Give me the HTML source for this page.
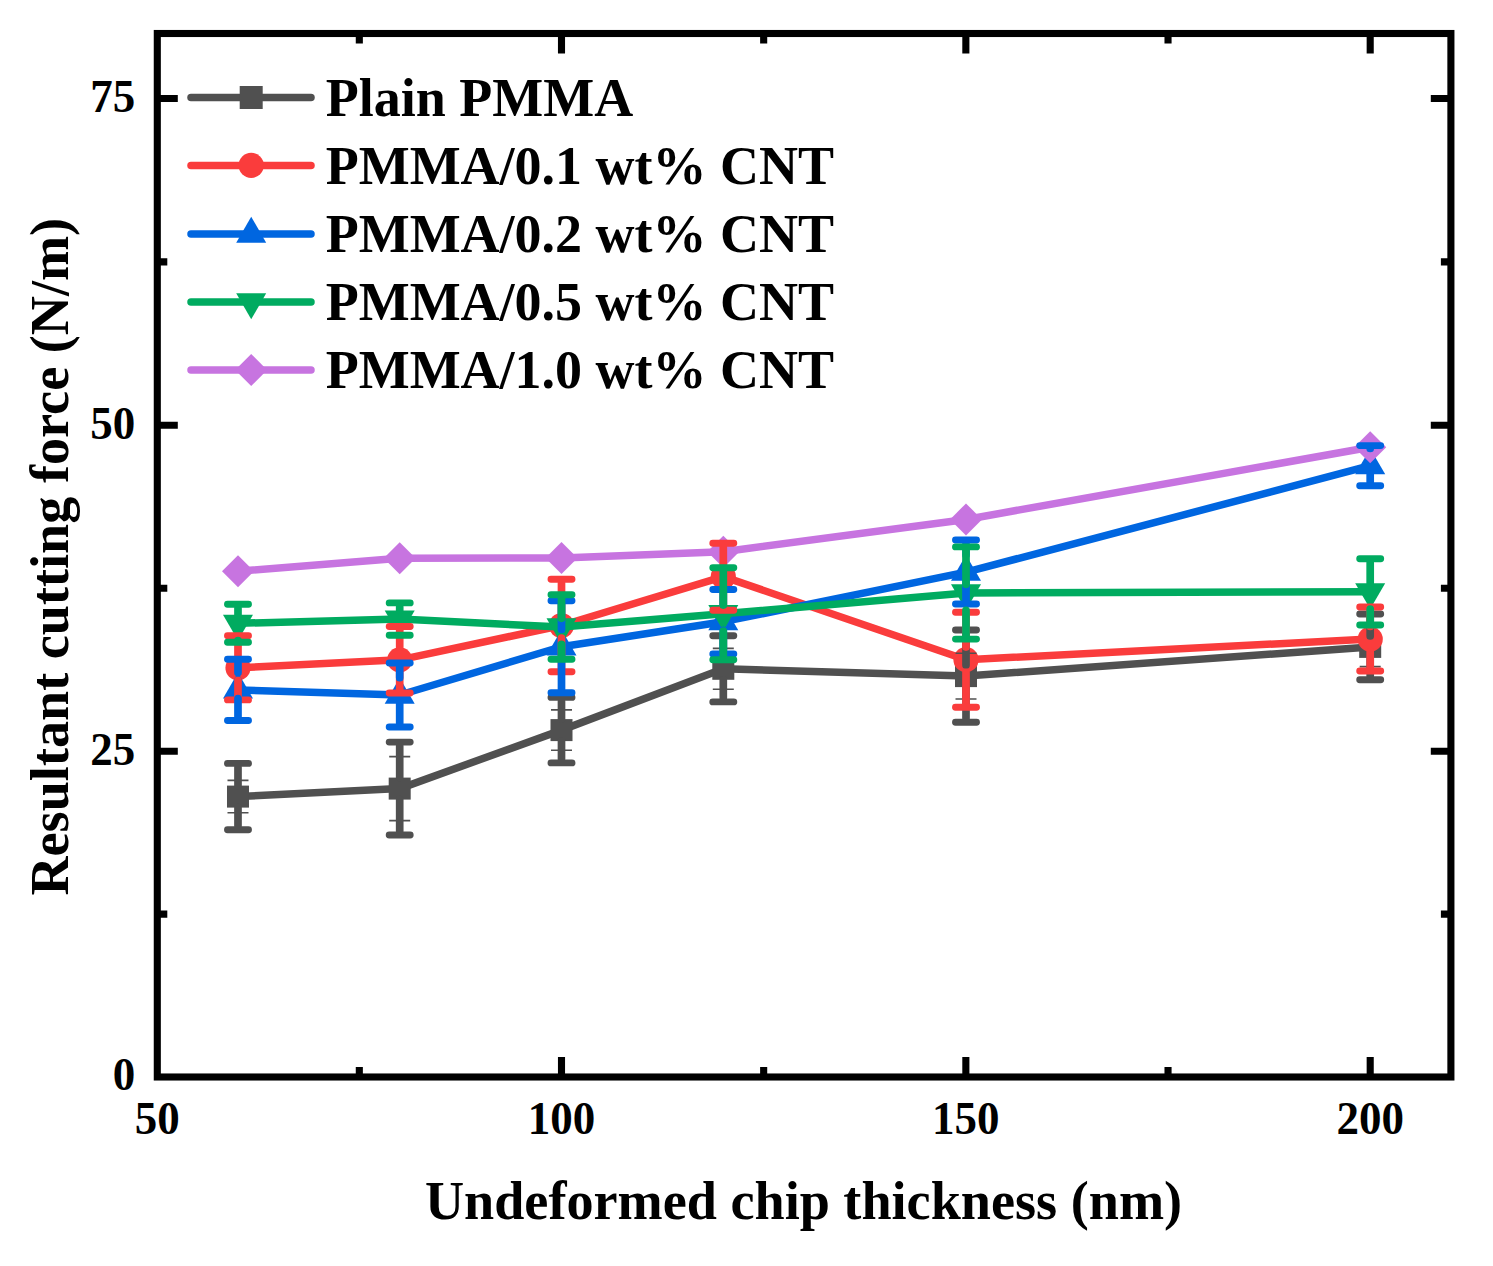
<!DOCTYPE html>
<html><head><meta charset="utf-8"><title>Resultant cutting force chart</title>
<style>html,body{margin:0;padding:0;background:#fff;}svg{display:block;}</style></head>
<body>
<svg width="1493" height="1266" viewBox="0 0 1493 1266">
<rect width="1493" height="1266" fill="#fff"/>
<polyline points="237.99,796.60 399.70,788.60 561.50,730.10 723.30,668.80 966.00,676.10 1370.20,646.90" fill="none" stroke="#505050" stroke-width="7.5" stroke-linejoin="round" stroke-linecap="round"/>
<rect x="226.99" y="785.60" width="22" height="22" fill="#505050"/>
<rect x="388.70" y="777.60" width="22" height="22" fill="#505050"/>
<rect x="550.50" y="719.10" width="22" height="22" fill="#505050"/>
<rect x="712.30" y="657.80" width="22" height="22" fill="#505050"/>
<rect x="955.00" y="665.10" width="22" height="22" fill="#505050"/>
<rect x="1359.20" y="635.90" width="22" height="22" fill="#505050"/>
<polyline points="237.99,667.80 399.70,659.80 561.50,625.50 723.30,576.60 966.00,659.70 1370.20,639.10" fill="none" stroke="#FA3C3C" stroke-width="7.5" stroke-linejoin="round" stroke-linecap="round"/>
<circle cx="237.99" cy="667.80" r="12.6" fill="#FA3C3C"/>
<circle cx="399.70" cy="659.80" r="12.6" fill="#FA3C3C"/>
<circle cx="561.50" cy="625.50" r="12.6" fill="#FA3C3C"/>
<circle cx="723.30" cy="576.60" r="12.6" fill="#FA3C3C"/>
<circle cx="966.00" cy="659.70" r="12.6" fill="#FA3C3C"/>
<circle cx="1370.20" cy="639.10" r="12.6" fill="#FA3C3C"/>
<polyline points="237.99,689.90 399.70,695.00 561.50,646.75 723.30,621.70 966.00,572.20 1370.20,465.70" fill="none" stroke="#0066E0" stroke-width="7.5" stroke-linejoin="round" stroke-linecap="round"/>
<path d="M237.99 672.58L252.99 698.56L222.99 698.56Z" fill="#0066E0"/>
<path d="M399.70 677.68L414.70 703.66L384.70 703.66Z" fill="#0066E0"/>
<path d="M561.50 629.43L576.50 655.41L546.50 655.41Z" fill="#0066E0"/>
<path d="M723.30 604.38L738.30 630.36L708.30 630.36Z" fill="#0066E0"/>
<path d="M966.00 554.88L981.00 580.86L951.00 580.86Z" fill="#0066E0"/>
<path d="M1370.20 448.38L1385.20 474.36L1355.20 474.36Z" fill="#0066E0"/>
<polyline points="237.99,623.30 399.70,619.10 561.50,627.00 723.30,613.70 966.00,593.00 1370.20,591.80" fill="none" stroke="#00AB60" stroke-width="7.5" stroke-linejoin="round" stroke-linecap="round"/>
<path d="M237.99 640.62L252.99 614.64L222.99 614.64Z" fill="#00AB60"/>
<path d="M399.70 636.42L414.70 610.44L384.70 610.44Z" fill="#00AB60"/>
<path d="M561.50 644.32L576.50 618.34L546.50 618.34Z" fill="#00AB60"/>
<path d="M723.30 631.02L738.30 605.04L708.30 605.04Z" fill="#00AB60"/>
<path d="M966.00 610.32L981.00 584.34L951.00 584.34Z" fill="#00AB60"/>
<path d="M1370.20 609.12L1385.20 583.14L1355.20 583.14Z" fill="#00AB60"/>
<polyline points="237.99,571.30 399.70,558.30 561.50,558.00 723.30,551.70 966.00,519.45 1370.20,447.20" fill="none" stroke="#C774E0" stroke-width="7.5" stroke-linejoin="round" stroke-linecap="round"/>
<path d="M237.99 555.30L253.99 571.30L237.99 587.30L221.99 571.30Z" fill="#C774E0"/>
<path d="M399.70 542.30L415.70 558.30L399.70 574.30L383.70 558.30Z" fill="#C774E0"/>
<path d="M561.50 542.00L577.50 558.00L561.50 574.00L545.50 558.00Z" fill="#C774E0"/>
<path d="M723.30 535.70L739.30 551.70L723.30 567.70L707.30 551.70Z" fill="#C774E0"/>
<path d="M966.00 503.45L982.00 519.45L966.00 535.45L950.00 519.45Z" fill="#C774E0"/>
<path d="M1370.20 431.20L1386.20 447.20L1370.20 463.20L1354.20 447.20Z" fill="#C774E0"/>
<path d="M227.49 780.40H248.49M227.49 812.80H248.49M389.20 756.60H410.20M389.20 820.60H410.20M551.00 709.90H572.00M551.00 750.30H572.00M712.80 648.40H733.80M712.80 689.20H733.80M955.50 653.20H976.50M955.50 699.00H976.50M1359.70 627.20H1380.70M1359.70 666.60H1380.70" stroke="#505050" stroke-width="1.6" fill="none"/>
<path d="M237.99 767.25V785.60M237.99 807.60V825.85M399.70 745.95V777.60M399.70 799.60V831.15M561.50 701.25V719.10M561.50 741.10V759.05M723.30 639.55V657.80M723.30 679.80V698.05M966.00 633.85V665.10M966.00 687.10V718.35M1370.20 617.85V635.90M1370.20 657.90V675.95" stroke="#505050" stroke-width="7.7" stroke-linecap="round" fill="none"/>
<path d="M227.49 763.40H248.49M227.49 829.70H248.49M389.20 742.10H410.20M389.20 835.00H410.20M551.00 697.40H572.00M551.00 762.90H572.00M712.80 635.70H733.80M712.80 701.90H733.80M955.50 630.00H976.50M955.50 722.20H976.50M1359.70 614.00H1380.70M1359.70 679.80H1380.70" stroke="#505050" stroke-width="6.9" stroke-linecap="round" fill="none"/>
<path d="M237.99 639.55V655.20M237.99 680.40V696.05M399.70 630.35V647.20M399.70 672.40V689.15M561.50 583.15V612.90M561.50 638.10V667.85M723.30 547.15V564.00M723.30 589.20V606.45M966.00 616.05V647.10M966.00 672.30V703.45M1370.20 610.85V626.50M1370.20 651.70V667.15" stroke="#FA3C3C" stroke-width="7.7" stroke-linecap="round" fill="none"/>
<path d="M227.49 635.70H248.49M227.49 699.90H248.49M389.20 626.50H410.20M389.20 693.00H410.20M551.00 579.30H572.00M551.00 671.70H572.00M712.80 543.30H733.80M712.80 610.30H733.80M955.50 612.20H976.50M955.50 707.30H976.50M1359.70 607.00H1380.70M1359.70 671.00H1380.70" stroke="#FA3C3C" stroke-width="6.9" stroke-linecap="round" fill="none"/>
<path d="M237.99 663.15V672.60M237.99 698.56V716.65M399.70 666.85V677.70M399.70 703.66V723.15M561.50 604.55V629.45M561.50 655.41V688.95M723.30 593.35V604.40M723.30 630.36V650.05M966.00 543.90V554.90M966.00 580.86V600.15M1370.20 448.40V448.40M1370.20 474.36V481.95" stroke="#0066E0" stroke-width="7.7" stroke-linecap="round" fill="none"/>
<path d="M227.49 659.30H248.49M227.49 720.50H248.49M389.20 663.00H410.20M389.20 727.00H410.20M551.00 600.70H572.00M551.00 692.80H572.00M712.80 589.50H733.80M712.80 653.90H733.80M955.50 540.05H976.50M955.50 604.00H976.50M1359.70 445.60H1380.70M1359.70 485.80H1380.70" stroke="#0066E0" stroke-width="6.9" stroke-linecap="round" fill="none"/>
<path d="M237.99 608.15V614.64M237.99 640.60V640.60M399.70 606.75V610.44M561.50 598.55V618.34M561.50 644.30V655.45M723.30 571.55V605.04M723.30 631.00V655.85M966.00 550.75V584.34M966.00 610.30V635.25M1370.20 562.55V583.14M1370.20 609.10V621.15" stroke="#00AB60" stroke-width="7.7" stroke-linecap="round" fill="none"/>
<path d="M227.49 604.30H248.49M227.49 642.30H248.49M389.20 602.90H410.20M389.20 635.30H410.20M551.00 594.70H572.00M551.00 659.30H572.00M712.80 567.70H733.80M712.80 659.70H733.80M955.50 546.90H976.50M955.50 639.10H976.50M1359.70 558.70H1380.70M1359.70 625.00H1380.70" stroke="#00AB60" stroke-width="6.9" stroke-linecap="round" fill="none"/>
<rect x="157.30" y="33.50" width="1293.60" height="1043.50" fill="none" stroke="#000" stroke-width="7.1" stroke-linejoin="miter"/>
<path d="M561.50 1077.00V1056.90M561.50 33.50V53.60M965.85 1077.00V1056.90M965.85 33.50V53.60M1370.20 1077.00V1056.90M1370.20 33.50V53.60M359.32 1077.00V1067.00M359.32 33.50V43.50M763.67 1077.00V1067.00M763.67 33.50V43.50M1168.03 1077.00V1067.00M1168.03 33.50V43.50M157.30 751.20H177.80M1450.90 751.20H1430.80M157.30 425.30H177.80M1450.90 425.30H1430.80M157.30 98.50H177.80M1450.90 98.50H1430.80M157.30 914.10H167.30M1450.90 914.10H1440.90M157.30 588.25H167.30M1450.90 588.25H1440.90M157.30 261.90H167.30M1450.90 261.90H1440.90" stroke="#000" stroke-width="7.1" fill="none"/>
<text transform="translate(157.15,1134.3) scale(1,1.035)" text-anchor="middle" font-family="Liberation Serif, serif" font-weight="bold" font-size="45">50</text>
<text transform="translate(561.50,1134.3) scale(1,1.035)" text-anchor="middle" font-family="Liberation Serif, serif" font-weight="bold" font-size="45">100</text>
<text transform="translate(965.85,1134.3) scale(1,1.035)" text-anchor="middle" font-family="Liberation Serif, serif" font-weight="bold" font-size="45">150</text>
<text transform="translate(1370.20,1134.3) scale(1,1.035)" text-anchor="middle" font-family="Liberation Serif, serif" font-weight="bold" font-size="45">200</text>
<text transform="translate(135.3,1090.30) scale(1,1.035)" text-anchor="end" font-family="Liberation Serif, serif" font-weight="bold" font-size="45">0</text>
<text transform="translate(135.3,764.50) scale(1,1.035)" text-anchor="end" font-family="Liberation Serif, serif" font-weight="bold" font-size="45">25</text>
<text transform="translate(135.3,438.60) scale(1,1.035)" text-anchor="end" font-family="Liberation Serif, serif" font-weight="bold" font-size="45">50</text>
<text transform="translate(135.3,111.80) scale(1,1.035)" text-anchor="end" font-family="Liberation Serif, serif" font-weight="bold" font-size="45">75</text>
<text x="803.5" y="1218.6" text-anchor="middle" font-family="Liberation Serif, serif" font-weight="bold" font-size="54.2">Undeformed chip thickness (nm)</text>
<text transform="translate(67.9,556.7) rotate(-90)" x="0" y="0" text-anchor="middle" font-family="Liberation Serif, serif" font-weight="bold" font-size="54.2">Resultant cutting force (N/m)</text>
<path d="M191 97.50H311" stroke="#505050" stroke-width="7.5" stroke-linecap="round"/>
<rect x="239.70" y="86.00" width="23" height="23" fill="#505050"/>
<text x="325.7" y="116.30" font-family="Liberation Serif, serif" font-weight="bold" font-size="54">Plain PMMA</text>
<path d="M191 165.40H311" stroke="#FA3C3C" stroke-width="7.5" stroke-linecap="round"/>
<circle cx="251.20" cy="165.40" r="12.6" fill="#FA3C3C"/>
<text x="325.7" y="184.30" font-family="Liberation Serif, serif" font-weight="bold" font-size="54">PMMA/0.1 wt% CNT</text>
<path d="M191 234.00H311" stroke="#0066E0" stroke-width="7.5" stroke-linecap="round"/>
<path d="M251.20 216.68L266.20 242.66L236.20 242.66Z" fill="#0066E0"/>
<text x="325.7" y="252.30" font-family="Liberation Serif, serif" font-weight="bold" font-size="54">PMMA/0.2 wt% CNT</text>
<path d="M191 302.00H311" stroke="#00AB60" stroke-width="7.5" stroke-linecap="round"/>
<path d="M251.20 319.32L266.20 293.34L236.20 293.34Z" fill="#00AB60"/>
<text x="325.7" y="320.30" font-family="Liberation Serif, serif" font-weight="bold" font-size="54">PMMA/0.5 wt% CNT</text>
<path d="M191 370.00H311" stroke="#C774E0" stroke-width="7.5" stroke-linecap="round"/>
<path d="M251.20 354.00L267.20 370.00L251.20 386.00L235.20 370.00Z" fill="#C774E0"/>
<text x="325.7" y="388.30" font-family="Liberation Serif, serif" font-weight="bold" font-size="54">PMMA/1.0 wt% CNT</text>
</svg>
</body></html>
